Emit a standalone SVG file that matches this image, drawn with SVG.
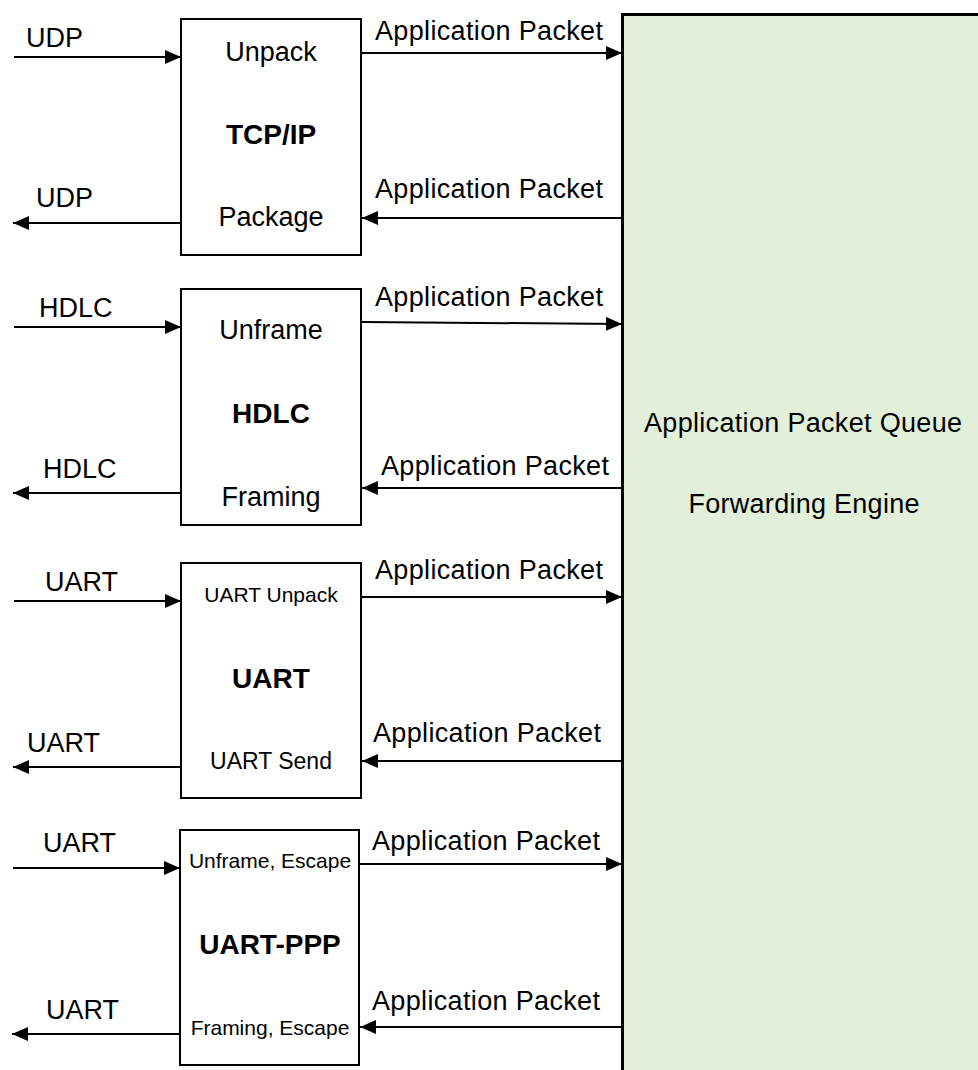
<svg xmlns="http://www.w3.org/2000/svg" width="978" height="1070" viewBox="0 0 978 1070">
<style>
text{font-family:"Liberation Sans",Arial,sans-serif;fill:#000}
.l{font-size:27px}
.c{font-size:27px;text-anchor:middle}
.b{font-size:28px;font-weight:bold;text-anchor:middle}
.s{font-size:21px;text-anchor:middle}
.box{fill:#fff;stroke:#000;stroke-width:2}
.conn line{stroke:#000;stroke-width:2}
</style>
<defs>
<marker id="ah" markerUnits="userSpaceOnUse" markerWidth="17" markerHeight="15" refX="16" refY="7" orient="auto">
<path d="M0,0 L16,7 L0,14 z" fill="#000"/>
</marker>
</defs>
<rect width="978" height="1070" fill="#fff"/>
<g id="engine">
<rect x="622.5" y="14.5" width="420" height="1100" fill="#E2EFD9" stroke="#000" stroke-width="3"/>
<text class="c" x="803" y="432" textLength="318">Application Packet Queue</text>
<text class="c" x="804" y="513" textLength="231">Forwarding Engine</text>
</g>
<g id="tcpip">
<rect class="box" x="181" y="19" width="180" height="236"/>
<text class="c" x="271" y="61">Unpack</text>
<text class="b" x="271" y="144">TCP/IP</text>
<text class="c" x="271" y="226">Package</text>
</g>
<g id="hdlc">
<rect class="box" x="181" y="289" width="180" height="236"/>
<text class="c" x="271" y="339">Unframe</text>
<text class="b" x="271" y="423">HDLC</text>
<text class="c" x="271" y="506">Framing</text>
</g>
<g id="uart">
<rect class="box" x="181" y="563" width="180" height="235"/>
<text class="s" x="271" y="602">UART Unpack</text>
<text class="b" x="271" y="688">UART</text>
<text class="c" x="271" y="769" style="font-size:23px">UART Send</text>
</g>
<g id="uartppp">
<rect class="box" x="180" y="830" width="179" height="235"/>
<text class="s" x="270" y="868">Unframe, Escape</text>
<text class="b" x="270" y="954">UART-PPP</text>
<text class="s" x="270" y="1035">Framing, Escape</text>
</g>
<g class="conn" id="connectors">
<line x1="14" y1="57" x2="181" y2="57" marker-end="url(#ah)"/>
<line x1="180" y1="223" x2="13" y2="223" marker-end="url(#ah)"/>
<line x1="362" y1="53" x2="622" y2="53" marker-end="url(#ah)"/>
<line x1="621" y1="218" x2="362" y2="218" marker-end="url(#ah)"/>

<line x1="14" y1="327" x2="181" y2="327" marker-end="url(#ah)"/>
<line x1="180" y1="493" x2="13" y2="493" marker-end="url(#ah)"/>
<line x1="362" y1="322" x2="622" y2="324" marker-end="url(#ah)"/>
<line x1="621" y1="488" x2="362" y2="488" marker-end="url(#ah)"/>

<line x1="14" y1="601" x2="181" y2="601" marker-end="url(#ah)"/>
<line x1="180" y1="767" x2="13" y2="767" marker-end="url(#ah)"/>
<line x1="362" y1="597" x2="622" y2="597" marker-end="url(#ah)"/>
<line x1="621" y1="761" x2="362" y2="761" marker-end="url(#ah)"/>

<line x1="13" y1="868" x2="180" y2="868" marker-end="url(#ah)"/>
<line x1="179" y1="1034" x2="12" y2="1034" marker-end="url(#ah)"/>
<line x1="360" y1="864" x2="622" y2="864" marker-end="url(#ah)"/>
<line x1="621" y1="1027" x2="360" y2="1027" marker-end="url(#ah)"/>
</g>
<g id="labels">
<text class="l" x="26" y="47">UDP</text>
<text class="l" x="36" y="207">UDP</text>
<text class="l" x="375" y="40" textLength="228">Application Packet</text>
<text class="l" x="375" y="198" textLength="228">Application Packet</text>
<text class="l" x="39" y="317">HDLC</text>
<text class="l" x="43" y="478">HDLC</text>
<text class="l" x="375" y="306" textLength="228">Application Packet</text>
<text class="l" x="381" y="475" textLength="228">Application Packet</text>
<text class="l" x="45" y="591">UART</text>
<text class="l" x="27" y="752">UART</text>
<text class="l" x="375" y="579" textLength="228">Application Packet</text>
<text class="l" x="373" y="742" textLength="228">Application Packet</text>
<text class="l" x="43" y="852">UART</text>
<text class="l" x="46" y="1019">UART</text>
<text class="l" x="372" y="850" textLength="228">Application Packet</text>
<text class="l" x="372" y="1010" textLength="228">Application Packet</text>
</g>
</svg>
